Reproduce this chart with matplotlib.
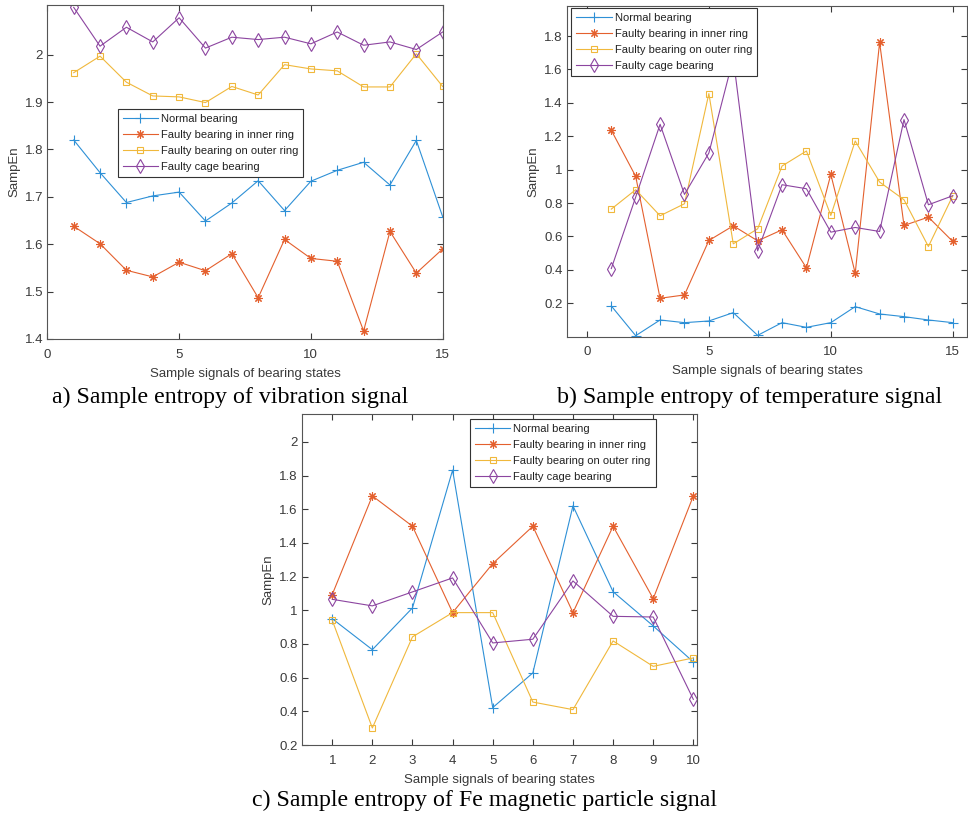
import matplotlib
matplotlib.use('Agg')
import matplotlib.pyplot as plt
import numpy as np

# Sample entropy values for the four bearing states
vib_normal = [1.820, 1.751, 1.688, 1.702, 1.710, 1.649, 1.687, 1.734, 1.671, 1.733,
              1.756, 1.773, 1.725, 1.819, 1.658]
vib_inner = [1.638, 1.601, 1.545, 1.531, 1.562, 1.544, 1.580, 1.487, 1.610, 1.570,
             1.564, 1.417, 1.627, 1.539, 1.590]
vib_outer = [1.962, 1.997, 1.942, 1.913, 1.911, 1.899, 1.933, 1.915, 1.979, 1.970,
             1.966, 1.932, 1.932, 2.002, 1.933]
vib_cage = [2.100, 2.018, 2.058, 2.027, 2.078, 2.014, 2.037, 2.032, 2.037, 2.023,
            2.048, 2.020, 2.027, 2.011, 2.048]

temp_normal = [0.184, 0.006, 0.100, 0.084, 0.094, 0.144, 0.008, 0.084, 0.056, 0.084,
               0.180, 0.136, 0.120, 0.100, 0.084]
temp_inner = [1.236, 0.960, 0.230, 0.250, 0.576, 0.664, 0.574, 0.640, 0.412, 0.972,
              0.380, 1.762, 0.666, 0.716, 0.570]
temp_outer = [0.764, 0.880, 0.724, 0.796, 1.456, 0.556, 0.646, 1.022, 1.112, 0.726,
              1.172, 0.926, 0.820, 0.540, 0.844]
temp_cage = [0.408, 0.836, 1.272, 0.852, 1.100, 1.667, 0.514, 0.910, 0.886, 0.626,
             0.654, 0.630, 1.300, 0.790, 0.844]

fe_normal = [0.950, 0.766, 1.014, 1.832, 0.422, 0.628, 1.620, 1.110, 0.907, 0.693]
fe_inner = [1.093, 1.679, 1.499, 0.986, 1.277, 1.499, 0.986, 1.499, 1.069, 1.679]
fe_outer = [0.941, 0.301, 0.842, 0.986, 0.986, 0.455, 0.410, 0.818, 0.667, 0.717]
fe_cage = [1.065, 1.026, 1.109, 1.192, 0.806, 0.828, 1.174, 0.964, 0.960, 0.471]

labels = ['Normal bearing', 'Faulty bearing in inner ring',
          'Faulty bearing on outer ring', 'Faulty cage bearing']
captions = ['a) Sample entropy of vibration signal',
            'b) Sample entropy of temperature signal',
            'c) Sample entropy of Fe magnetic particle signal']

# matlab-like colour order, a bit lighter as the thin lines render
colors = ['#2E90D6', '#E4602E', '#F0B83C', '#8C45A0']
markers = ['+', (8, 2, 0), 's', 'd']
msizes = [7, 6, 5, 7]

plt.rcParams['font.family'] = 'Liberation Sans'
plt.rcParams['axes.linewidth'] = 0.8

fig = plt.figure(figsize=(9.68, 8.16), dpi=100)

ax_a = fig.add_axes([0.0489, 0.5846, 0.4084, 0.4093])
ax_b = fig.add_axes([0.5854, 0.5874, 0.4140, 0.4052])
ax_c = fig.add_axes([0.3117, 0.0870, 0.4087, 0.4056])


def draw(ax, series):
    x = np.arange(1, len(series[0]) + 1)
    for ys, c, m, ms, lab in zip(series, colors, markers, msizes, labels):
        ax.plot(x, ys, color=c, marker=m, markersize=ms, markerfacecolor='none',
                markeredgewidth=0.8, linewidth=0.8, label=lab)
    ax.tick_params(direction='in', length=4, width=0.8, labelsize=9.5,
                   colors='#3a3a3a', top=True, right=True)
    ax.tick_params(axis='x', pad=7)
    ax.tick_params(axis='y', pad=3)
    for s in ax.spines.values():
        s.set_color('#555555')
    ax.set_xlabel('Sample signals of bearing states', fontsize=9.5,
                  color='#3a3a3a', labelpad=5)
    ax.set_ylabel('SampEn', fontsize=9.5, color='#3a3a3a', labelpad=3)


def legend(ax, loc):
    lg = ax.legend(loc='upper left', bbox_to_anchor=loc, fontsize=8,
                   frameon=True, fancybox=False, framealpha=1,
                   handlelength=3.2, handletextpad=0.25, borderpad=0.45,
                   labelspacing=0.55, borderaxespad=0)
    lg.get_frame().set_edgecolor('#333333')
    lg.get_frame().set_linewidth(0.8)
    for t in lg.get_texts():
        t.set_color('#222222')


# a) vibration
draw(ax_a, [vib_normal, vib_inner, vib_outer, vib_cage])
ax_a.set_xlim(0, 15)
ax_a.set_ylim(1.4, 2.105)
ax_a.set_xticks([0, 5, 10, 15])
ax_a.set_yticks(np.arange(1.4, 2.01, 0.1))
ax_a.set_yticklabels(['1.4', '1.5', '1.6', '1.7', '1.8', '1.9', '2'])
legend(ax_a, (0.178, 0.69))

# b) temperature
draw(ax_b, [temp_normal, temp_inner, temp_outer, temp_cage])
ax_b.set_xlim(-0.83, 15.6)
ax_b.set_ylim(0.0, 1.98)
ax_b.set_xticks([0, 5, 10, 15])
ax_b.set_yticks(np.arange(0.2, 1.81, 0.2))
ax_b.set_yticklabels(['0.2', '0.4', '0.6', '0.8', '1', '1.2', '1.4', '1.6', '1.8'])
legend(ax_b, (0.012, 0.994))

# c) Fe magnetic particle
draw(ax_c, [fe_normal, fe_inner, fe_outer, fe_cage])
ax_c.set_xlim(0.24, 10.1)
ax_c.set_ylim(0.2, 2.165)
ax_c.set_xticks(np.arange(1, 11))
ax_c.set_yticks(np.arange(0.2, 2.01, 0.2))
ax_c.set_yticklabels(['0.2', '0.4', '0.6', '0.8', '1', '1.2', '1.4', '1.6', '1.8', '2'])
legend(ax_c, (0.425, 0.985))

# captions under each panel
cap = dict(fontsize=17.2, family='Liberation Serif', ha='center', va='center')
fig.text(230.5 / 968, 1 - 397 / 816, captions[0], **cap)
fig.text(749.5 / 968, 1 - 397 / 816, captions[1], **cap)
fig.text(485 / 968, 1 - 800 / 816, captions[2], **cap)

fig.savefig('out.png', dpi=100)
